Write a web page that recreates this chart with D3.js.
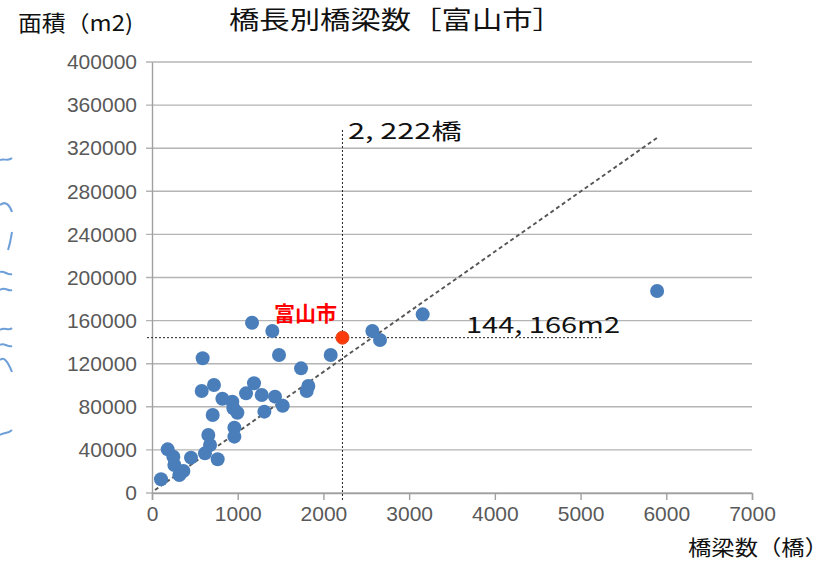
<!DOCTYPE html>
<html><head><meta charset="utf-8">
<script src="https://cdn.jsdelivr.net/npm/d3@7"></script>
<style>
html,body{margin:0;padding:0;background:#fff;}
svg{display:block;}
</style></head>
<body>
<script>
// ---- data ----
const bridgeCounts = [105,183,249,261,319,366,455,591,580,723,657,677,618,766,708,821,937,949,996,961,961,1167,1404,1482,1190,1097,1280,1435,1525,1311,1739,1824,1805,2085,2571,2660,3158,5893];
const areas =        [12700,40500,33700,26000,16700,20400,32800,125000,94700,100200,53800,44500,36800,31300,72400,87500,84700,78600,74500,60600,52300,158000,150300,128100,101800,92500,91000,89400,81000,75500,115700,99300,94700,128100,150300,142000,165800,187500];
const toyamaCount = [2222];
const toyamaArea = [144166];
const trendX = [35, 5900];
const trendY = [2800, 330000];
const yTicks = [0,40000,80000,120000,160000,200000,240000,280000,320000,360000,400000];
const xTicks = [0,1000,2000,3000,4000,5000,6000,7000];
const titleText = "橋長別橋梁数［富山市］";
const yLabel = "面積（m2)";
const xLabel = "橋梁数（橋）";
const cityLabel = "富山市";
const countLabel = "2, 222橋";
const areaLabel = "144, 166m2";

const W = 836, H = 561;
const svg = d3.select("body").append("svg").attr("width", W).attr("height", H);

const x = d3.scaleLinear().domain([0,7000]).range([152,752]);
const y = d3.scaleLinear().domain([0,400000]).range([493,62]);

// left decorative squiggles (clipped picture edge)
const squig = [
  "M0,160 C4,158 8,162 12,158",
  "M0,205 C6,200 10,206 12,212",
  "M8,250 C10,244 11,238 12,232",
  "M0,272 C4,270 8,276 12,274",
  "M0,290 C5,286 8,292 12,290",
  "M0,330 C5,326 8,332 12,328",
  "M0,345 C4,342 8,348 12,346",
  "M0,360 C4,356 8,362 12,372",
  "M0,435 C4,432 8,434 12,430"
];
svg.append("g").selectAll("path").data(squig).join("path")
  .attr("d", d=>d).attr("fill","none").attr("stroke","#6f9fd8").attr("stroke-width",2);

// gridlines
svg.append("g").selectAll("line").data(yTicks).join("line")
  .attr("x1",146).attr("x2",752)
  .attr("y1",d=>y(d)).attr("y2",d=>y(d))
  .attr("stroke","#b4b4b4").attr("stroke-width",1.4);

// y axis
const yAxis = d3.axisLeft(y).tickValues(yTicks).tickSize(0).tickPadding(15).tickFormat(d3.format("d"));
const gy = svg.append("g").attr("transform","translate(152,0)").call(yAxis);
gy.select(".domain").attr("stroke","#a0a0a0").attr("stroke-width",1.4);
gy.selectAll("text").attr("font-family","Liberation Sans, Arial, sans-serif").attr("font-size",21).attr("fill","#595959");

// x axis
const xAxis = d3.axisBottom(x).tickValues(xTicks).tickSize(7).tickPadding(6).tickFormat(d3.format("d"));
const gx = svg.append("g").attr("transform","translate(0,493)").call(xAxis);
gx.select(".domain").attr("stroke","#a0a0a0").attr("stroke-width",1.4);
gx.selectAll(".tick line").attr("stroke","#a0a0a0").attr("stroke-width",1.4);
gx.selectAll("text").attr("font-family","Liberation Sans, Arial, sans-serif").attr("font-size",21).attr("fill","#595959");

// trend line
svg.append("line")
  .attr("x1",x(trendX[0])).attr("y1",y(trendY[0]))
  .attr("x2",x(trendX[1])).attr("y2",y(trendY[1]))
  .attr("stroke","#555").attr("stroke-width",1.9).attr("stroke-dasharray","4,3");

// reference dotted lines
svg.append("line")
  .attr("x1",x(toyamaCount[0])).attr("x2",x(toyamaCount[0]))
  .attr("y1",130).attr("y2",y(0)+8)
  .attr("stroke","#222").attr("stroke-width",1).attr("stroke-dasharray","2,2");
svg.append("line")
  .attr("x1",147).attr("x2",602)
  .attr("y1",y(toyamaArea[0])).attr("y2",y(toyamaArea[0]))
  .attr("stroke","#222").attr("stroke-width",1).attr("stroke-dasharray","2,2");

// points
svg.append("g").selectAll("circle").data(d3.range(bridgeCounts.length)).join("circle")
  .attr("cx",i=>x(bridgeCounts[i])).attr("cy",i=>y(areas[i])).attr("r",7)
  .attr("fill","#4a7ebb");

svg.append("g").selectAll("circle").data(d3.range(toyamaCount.length)).join("circle")
  .attr("cx",i=>x(toyamaCount[i])).attr("cy",i=>y(toyamaArea[i])).attr("r",6.5)
  .attr("fill","#ff3a0a").attr("stroke","#e0481a").attr("stroke-width",1);

// texts
const jp = "Noto Sans CJK JP, sans-serif";
svg.append("text").attr("x",229).attr("y",29).attr("font-family",jp).attr("font-size",25)
  .attr("textLength",334).attr("lengthAdjust","spacingAndGlyphs").attr("fill","#111").text(titleText);
svg.append("text").attr("x",18).attr("y",31).attr("font-family",jp).attr("font-size",22)
  .attr("textLength",115).attr("lengthAdjust","spacingAndGlyphs").attr("fill","#111").text(yLabel);
svg.append("text").attr("x",688).attr("y",555).attr("font-family",jp).attr("font-size",21)
  .attr("textLength",140).attr("lengthAdjust","spacingAndGlyphs").attr("fill","#111").text(xLabel);
svg.append("text").attr("x",274).attr("y",321).attr("font-family",jp).attr("font-size",21).attr("font-weight","bold")
  .attr("fill","#ff0000").text(cityLabel);
svg.append("text").attr("x",348).attr("y",139).attr("font-family",jp).attr("font-size",22)
  .attr("textLength",114).attr("lengthAdjust","spacingAndGlyphs").attr("fill","#111").text(countLabel);
svg.append("text").attr("x",466).attr("y",333).attr("font-family",jp).attr("font-size",22)
  .attr("textLength",154).attr("lengthAdjust","spacingAndGlyphs").attr("fill","#111").text(areaLabel);
</script>
</body></html>
